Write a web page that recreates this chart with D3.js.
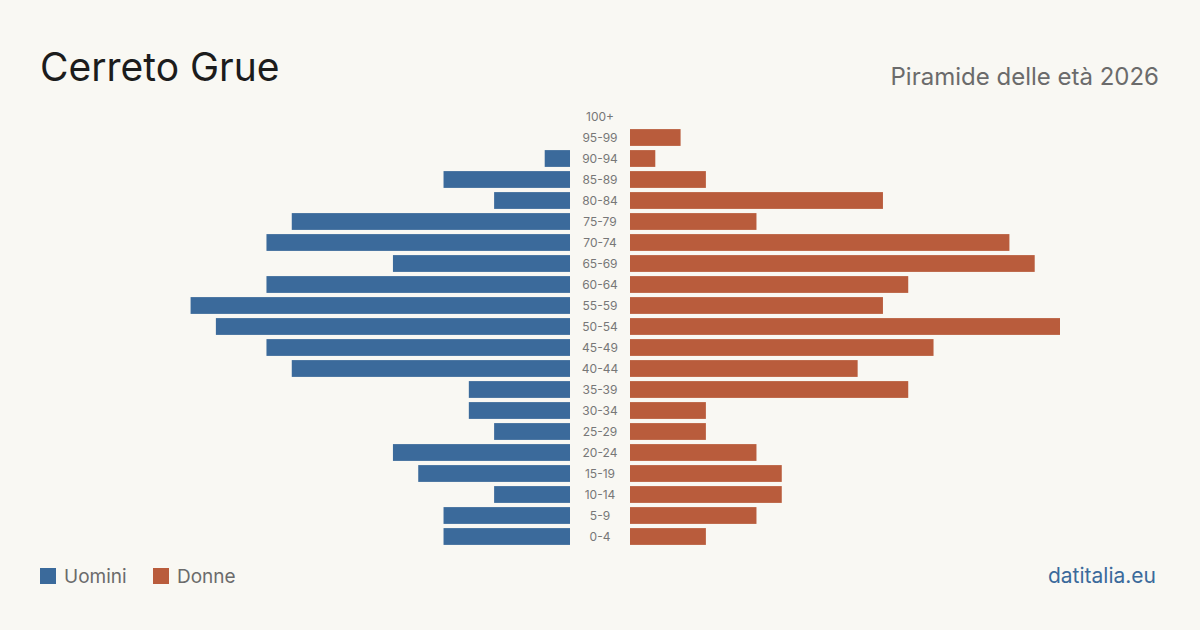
<!DOCTYPE html>
<html>
<head>
<meta charset="utf-8">
<script src="https://cdn.jsdelivr.net/npm/d3@7"></script>
<style>
  html, body { margin: 0; padding: 0; background: #f9f8f3; }
  svg { display: block; }
  text { font-family: Inter, "Noto Sans", sans-serif; }
</style>
</head>
<body>
<svg id="chart" width="1200" height="630"></svg>
<script>
const ageGroups = ["100+","95-99","90-94","85-89","80-84","75-79","70-74","65-69","60-64","55-59","50-54","45-49","40-44","35-39","30-34","25-29","20-24","15-19","10-14","5-9","0-4"];
const males   = [0, 0, 1, 5, 3, 11, 12, 7, 12, 15, 14, 12, 11, 4, 4, 3, 7, 6, 3, 5, 5];
const females = [0, 2, 1, 3, 10, 5, 15, 16, 11, 10, 17, 12, 9, 11, 3, 3, 5, 6, 6, 5, 3];
const legendLabels = ["Uomini", "Donne"];
const titleText = "Cerreto Grue";
const subtitleText = "Piramide delle età 2026";
const sourceText = "datitalia.eu";

const colMale = "#3b6a9b";
const colFemale = "#b95c3c";

const svg = d3.select("#chart");
svg.append("rect").attr("width", 1200).attr("height", 630).attr("fill", "#f9f8f3");

const y = d3.scaleBand().domain(ageGroups).range([106, 547]).paddingInner(0.2).paddingOuter(0.1);
const x = d3.scaleLinear().domain([0, 17]).range([0, 430]);
const leftEdge = 570, rightEdge = 630, centerX = 600;

const rows = ageGroups.map((a, i) => ({ age: a, m: males[i], f: females[i] }));

svg.append("g").selectAll("rect").data(rows.filter(d => d.m > 0)).join("rect")
  .attr("x", d => leftEdge - x(d.m)).attr("y", d => y(d.age))
  .attr("width", d => x(d.m)).attr("height", y.bandwidth()).attr("fill", colMale);

svg.append("g").selectAll("rect").data(rows.filter(d => d.f > 0)).join("rect")
  .attr("x", rightEdge).attr("y", d => y(d.age))
  .attr("width", d => x(d.f)).attr("height", y.bandwidth()).attr("fill", colFemale);

svg.append("g").selectAll("text").data(rows).join("text")
  .attr("x", centerX).attr("y", d => y(d.age) + y.bandwidth() / 2)
  .attr("dy", "0.35em").attr("text-anchor", "middle")
  .attr("font-size", 12).attr("fill", "#777")
  .text(d => d.age);

svg.append("text").attr("x", 40).attr("y", 81).attr("font-size", 39)
  .attr("fill", "#1c1c1c").text(titleText);
svg.append("text").attr("x", 1159).attr("y", 85).attr("font-size", 24)
  .attr("text-anchor", "end").attr("fill", "#6b6b6b").text(subtitleText);

const legend = svg.append("g");
const lx = [40, 153];
legendLabels.forEach((l, i) => {
  legend.append("rect").attr("x", lx[i]).attr("y", 568).attr("width", 16).attr("height", 16)
    .attr("fill", i === 0 ? colMale : colFemale);
  legend.append("text").attr("x", lx[i] + 24).attr("y", 583).attr("font-size", 19)
    .attr("fill", "#6b6b6b").text(l);
});

svg.append("text").attr("x", 1156).attr("y", 583).attr("font-size", 21)
  .attr("text-anchor", "end").attr("fill", "#3b6a9b").text(sourceText);
</script>
</body>
</html>
